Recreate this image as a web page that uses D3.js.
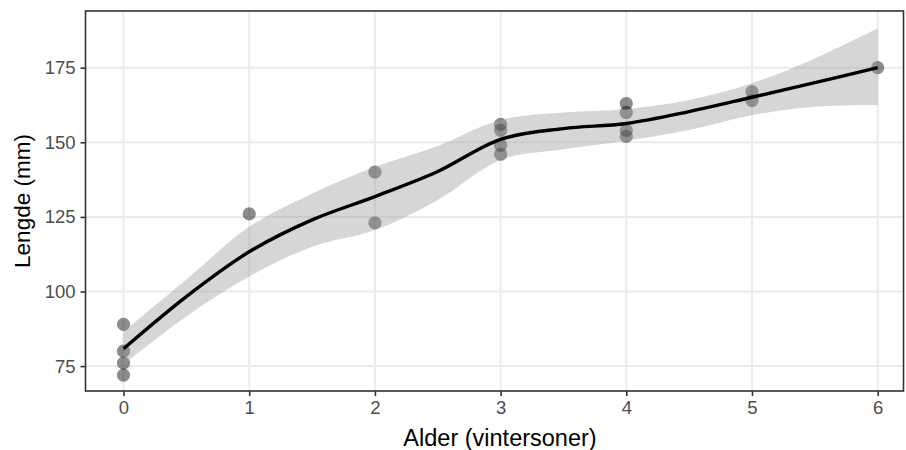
<!DOCTYPE html>
<html><head><meta charset="utf-8">
<script src="https://cdn.jsdelivr.net/npm/d3@7"></script>
<style>body{margin:0;background:#fff}svg{display:block}text{font-family:"Liberation Sans",Arial,sans-serif}</style>
</head><body><div id="chart"></div>
<script>
// observed points
const ageX = [0,0,0,0, 1, 2,2, 3,3,3,3, 4,4,4,4, 5,5, 6];
const lengthY = [89,80,76,72, 126, 140,123, 156,154,149,146, 163,160,154,152, 167,164, 175];
// smoothed fit and confidence band
const smoothX = [0,0.5,1,1.5,2,2.5,3,3.5,4,4.5,5,5.5,6];
const smoothFit = [80.8,98.3,113.3,124.0,131.8,140.2,151.0,154.6,156.3,160.3,165.1,170.0,175.0];
const smoothLow = [75.5,91.6,105.0,115.0,120.6,130.7,144.1,147.7,150.5,154.1,159.1,161.9,162.5];
const smoothHigh = [86.5,104.0,121.7,132.8,141.8,148.8,157.5,160.0,161.2,164.2,169.8,178.1,188.2];
const xTicks = [0,1,2,3,4,5,6];
const yTicks = [75,100,125,150,175];
const xTitle = "Alder (vintersoner)";
const yTitle = "Lengde (mm)";

const W = 906, H = 450;
const panel = {left: 85.5, top: 11, right: 903.5, bottom: 391};
const x = d3.scaleLinear().domain([0, 6]).range([123.5, 877.7]);
const y = d3.scaleLinear().domain([75, 175]).range([366.1, 67.7]);

const svg = d3.select("#chart").append("svg").attr("width", W).attr("height", H);

// grid
const grid = svg.append("g");
grid.selectAll("line.gy").data(yTicks).enter().append("line")
  .attr("x1", panel.left).attr("x2", panel.right)
  .attr("y1", d => y(d)).attr("y2", d => y(d))
  .attr("stroke", "#EBEBEB").attr("stroke-width", 2);
grid.selectAll("line.gx").data(xTicks).enter().append("line")
  .attr("y1", panel.top).attr("y2", panel.bottom)
  .attr("x1", d => x(d)).attr("x2", d => x(d))
  .attr("stroke", "#EBEBEB").attr("stroke-width", 2);

// points
svg.append("g").selectAll("circle").data(ageX.map((a, i) => [a, lengthY[i]])).enter()
  .append("circle").attr("cx", d => x(d[0])).attr("cy", d => y(d[1])).attr("r", 6.6)
  .attr("fill", "#000").attr("fill-opacity", 0.45);

// band
const sm = smoothX.map((v, i) => ({x: v, f: smoothFit[i], lo: smoothLow[i], hi: smoothHigh[i]}));
svg.append("path").datum(sm)
  .attr("d", d3.area().x(d => x(d.x)).y0(d => y(d.lo)).y1(d => y(d.hi)).curve(d3.curveCatmullRom.alpha(0.5)))
  .attr("fill", "#999999").attr("fill-opacity", 0.4);
svg.append("path").datum(sm)
  .attr("d", d3.line().x(d => x(d.x)).y(d => y(d.f)).curve(d3.curveCatmullRom.alpha(0.5)))
  .attr("fill", "none").attr("stroke", "#000").attr("stroke-width", 3.4);

// border
svg.append("rect").attr("x", panel.left).attr("y", panel.top)
  .attr("width", panel.right - panel.left).attr("height", panel.bottom - panel.top)
  .attr("fill", "none").attr("stroke", "#333333").attr("stroke-width", 1.6);

// axes
const xAxis = svg.append("g").attr("transform", `translate(0,${panel.bottom})`)
  .call(d3.axisBottom(x).tickValues(xTicks).tickSize(5).tickPadding(5).tickFormat(d3.format("d")));
const yAxis = svg.append("g").attr("transform", `translate(${panel.left},0)`)
  .call(d3.axisLeft(y).tickValues(yTicks).tickSize(5).tickPadding(5).tickFormat(d3.format("d")));
[xAxis, yAxis].forEach(g => {
  g.select(".domain").remove();
  g.selectAll(".tick line").attr("stroke", "#333333").attr("stroke-width", 1.6);
  g.selectAll(".tick text").attr("fill", "#4D4D4D").style("font-size", "18.5px")
    .style("font-family", "'Liberation Sans', Arial, sans-serif");
});

svg.append("text").attr("x", 500).attr("y", 446).attr("text-anchor", "middle")
  .style("font-size", "23.5px").attr("fill", "#000").text(xTitle);
svg.append("text").attr("transform", `translate(30,${(panel.top + panel.bottom) / 2}) rotate(-90)`)
  .attr("text-anchor", "middle").style("font-size", "22.5px").attr("fill", "#000").text(yTitle);
</script></body></html>
